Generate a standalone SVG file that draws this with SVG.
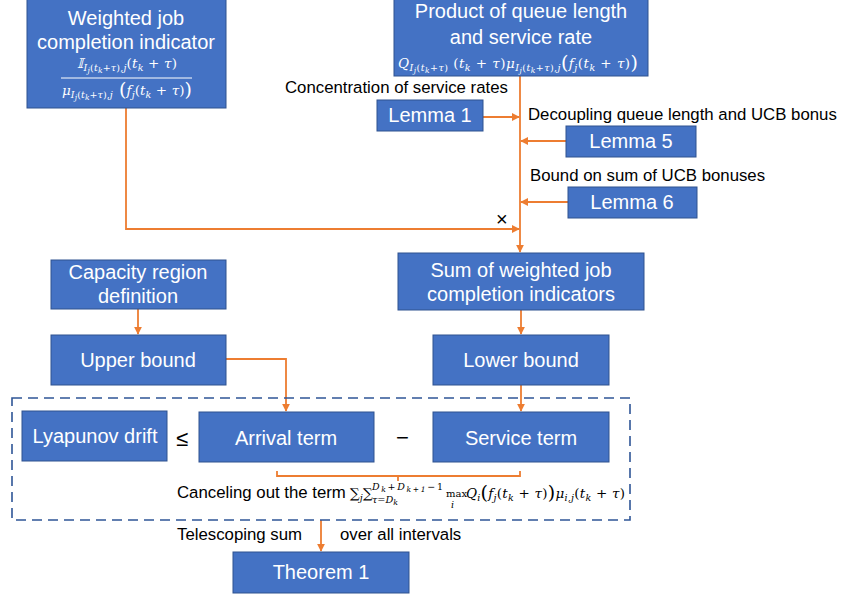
<svg xmlns="http://www.w3.org/2000/svg" width="845" height="599" viewBox="0 0 845 599">
<defs>
<style>
.box{fill:#4472C4;stroke:#2F528F;stroke-width:1}
.bt{font-family:"Liberation Sans",Arial,sans-serif;font-size:20px;fill:#fff;text-anchor:middle}
.lbl{font-family:"Liberation Sans",Arial,sans-serif;font-size:16.8px;fill:#000}
.m{font-family:"DejaVu Serif","Liberation Serif",serif;font-style:italic;font-size:13.5px}
.mw{fill:#fff}
.mk{fill:#000}
.up{font-style:normal}
.s1{font-size:9.5px}
.s2{font-size:7.5px}
.big{font-size:19px;font-style:normal}
.con{fill:none;stroke:#ED7D31;stroke-width:1.8}
.arr{marker-end:url(#ah)}
</style>
<marker id="ah" viewBox="0 0 10 10" refX="9" refY="5" markerWidth="4.5" markerHeight="4.5" orient="auto" markerUnits="strokeWidth">
<path d="M0,0 L10,5 L0,10 z" fill="#ED7D31"/>
</marker>
</defs>
<rect width="845" height="599" fill="#fff"/>

<g id="connectors">
<path class="con arr" d="M520,76 V252"/>
<path class="con arr" d="M483,117 H519"/>
<path class="con arr" d="M566,141 H521"/>
<path class="con arr" d="M568,202 H521"/>
<path class="con arr" d="M126,108 V229 H519"/>
<path class="con arr" d="M138,309 V334"/>
<path class="con arr" d="M521,310 V334"/>
<path class="con arr" d="M226,359 H286 V411"/>
<path class="con arr" d="M521,385 V411"/>
<path class="con" d="M277,471 V476 H520 V471 M398,476 V481"/>
<path class="con arr" d="M321,520 V551"/>
</g>

<g id="group-box">
<rect x="12" y="398" width="618" height="122" fill="none" stroke="#2F5597" stroke-width="1.6" stroke-dasharray="10,6"/>
</g>

<g id="n-weighted">
<rect class="box" x="27" y="-1" width="199" height="109"/>
<text class="bt" x="126" y="25">Weighted job</text>
<text class="bt" x="126" y="49">completion indicator</text>
<text class="m mw" x="77" y="68" textLength="100" lengthAdjust="spacing">𝕀<tspan class="s1" dy="3">I</tspan><tspan class="s2" dy="2">j</tspan><tspan class="s1 up" dy="-2">(</tspan><tspan class="s1" >t</tspan><tspan class="s2" dy="2">k</tspan><tspan class="s1 up" dy="-2">+</tspan><tspan class="s1">τ</tspan><tspan class="s1 up">),</tspan><tspan class="s1">j</tspan><tspan class="up" dy="-3">(</tspan>t<tspan class="s1" dy="3">k</tspan><tspan class="up" dy="-3"> + </tspan>τ<tspan class="up">)</tspan></text>
<line x1="61" y1="78" x2="192" y2="78" stroke="#fff" stroke-width="1"/>
<text class="m mw" x="62" y="95" textLength="130" lengthAdjust="spacing">μ<tspan class="s1" dy="3">I</tspan><tspan class="s2" dy="2">j</tspan><tspan class="s1 up" dy="-2">(</tspan><tspan class="s1">t</tspan><tspan class="s2" dy="2">k</tspan><tspan class="s1 up" dy="-2">+</tspan><tspan class="s1">τ</tspan><tspan class="s1 up">),</tspan><tspan class="s1">j</tspan><tspan class="big" dy="-2"> (</tspan><tspan dy="-1">f</tspan><tspan class="s1" dy="3">j</tspan><tspan class="up" dy="-3">(</tspan>t<tspan class="s1" dy="3">k</tspan><tspan class="up" dy="-3"> + </tspan>τ<tspan class="up">)</tspan><tspan class="big" dy="1">)</tspan></text>
</g>

<g id="n-product">
<rect class="box" x="394" y="-1" width="254" height="77"/>
<text class="bt" x="521" y="18">Product of queue length</text>
<text class="bt" x="521" y="44">and service rate</text>
<text class="m mw" x="398" y="68" textLength="240" lengthAdjust="spacing">Q<tspan class="s1" dy="3">I</tspan><tspan class="s2" dy="2">j</tspan><tspan class="s1 up" dy="-2">(</tspan><tspan class="s1">t</tspan><tspan class="s2" dy="2">k</tspan><tspan class="s1 up" dy="-2">+</tspan><tspan class="s1">τ</tspan><tspan class="s1 up">)</tspan><tspan class="up" dy="-3"> (</tspan>t<tspan class="s1" dy="3">k</tspan><tspan class="up" dy="-3"> + </tspan>τ<tspan class="up">)</tspan>μ<tspan class="s1" dy="3">I</tspan><tspan class="s2" dy="2">j</tspan><tspan class="s1 up" dy="-2">(</tspan><tspan class="s1">t</tspan><tspan class="s2" dy="2">k</tspan><tspan class="s1 up" dy="-2">+</tspan><tspan class="s1">τ</tspan><tspan class="s1 up">),</tspan><tspan class="s1">j</tspan><tspan class="big" dy="-2">(</tspan><tspan dy="-1">f</tspan><tspan class="s1" dy="3">j</tspan><tspan class="up" dy="-3">(</tspan>t<tspan class="s1" dy="3">k</tspan><tspan class="up" dy="-3"> + </tspan>τ<tspan class="up">)</tspan><tspan class="big" dy="1">)</tspan></text>
</g>

<g id="n-lemma1">
<rect class="box" x="377" y="100" width="106" height="31"/>
<text class="bt" x="430" y="122">Lemma 1</text>
</g>
<g id="n-lemma5">
<rect class="box" x="566" y="126" width="130" height="31"/>
<text class="bt" x="631" y="148">Lemma 5</text>
</g>
<g id="n-lemma6">
<rect class="box" x="568" y="187" width="129" height="31"/>
<text class="bt" x="632" y="209">Lemma 6</text>
</g>

<g id="labels">
<text class="lbl" x="285" y="93">Concentration of service rates</text>
<text class="lbl" x="528" y="120">Decoupling queue length and UCB bonus</text>
<text class="lbl" x="530" y="181">Bound on sum of UCB bonuses</text>
<text class="lbl" x="496" y="226" style="font-size:20px">×</text>
<text class="lbl" x="176" y="446" style="font-size:22px">≤</text>
<text class="lbl" x="396" y="445" style="font-size:22px">−</text>
<text class="lbl" x="177" y="540">Telescoping sum</text>
<text class="lbl" x="340" y="540">over all intervals</text>
<text class="lbl" x="177" y="498">Canceling out the term</text>
<text class="m mk" x="350" y="498"><tspan class="up">∑</tspan><tspan class="s1" dy="3">j</tspan></text>
<text class="m mk" x="363" y="498"><tspan class="up">∑</tspan></text>
<text class="m mk s1" x="372" y="503" textLength="26" lengthAdjust="spacingAndGlyphs">τ<tspan class="up">=</tspan>D<tspan class="s2" dy="2">k</tspan></text>
<text class="m mk s1" x="372" y="490" textLength="71" lengthAdjust="spacing">D<tspan class="s2" dy="2">k</tspan><tspan class="up" dy="-2">+</tspan>D<tspan class="s2" dy="2">k+1</tspan><tspan class="up" dy="-2">−1</tspan></text>
<text class="m mk up" x="446" y="497" style="font-size:10px">max</text>
<text class="m mk s1" x="451" y="508">i</text>
<text class="m mk" x="466" y="498" textLength="159" lengthAdjust="spacing">Q<tspan class="s1" dy="3">i</tspan><tspan class="big" dy="-2">(</tspan><tspan dy="-1">f</tspan><tspan class="s1" dy="3">j</tspan><tspan class="up" dy="-3">(</tspan>t<tspan class="s1" dy="3">k</tspan><tspan class="up" dy="-3"> + </tspan>τ<tspan class="up">)</tspan><tspan class="big" dy="1">)</tspan><tspan dy="-1">μ</tspan><tspan class="s1" dy="3">i,j</tspan><tspan class="up" dy="-3">(</tspan>t<tspan class="s1" dy="3">k</tspan><tspan class="up" dy="-3"> + </tspan>τ<tspan class="up">)</tspan></text>
</g>

<g id="n-capacity">
<rect class="box" x="51" y="260" width="175" height="49"/>
<text class="bt" x="138" y="279">Capacity region</text>
<text class="bt" x="138" y="303">definition</text>
</g>
<g id="n-sum">
<rect class="box" x="398" y="253" width="246" height="57"/>
<text class="bt" x="521" y="277">Sum of weighted job</text>
<text class="bt" x="521" y="301">completion indicators</text>
</g>
<g id="n-upper">
<rect class="box" x="51" y="335" width="175" height="50"/>
<text class="bt" x="138" y="367">Upper bound</text>
</g>
<g id="n-lower">
<rect class="box" x="433" y="335" width="176" height="50"/>
<text class="bt" x="521" y="367">Lower bound</text>
</g>
<g id="n-lyapunov">
<rect class="box" x="22" y="411" width="145" height="50"/>
<text class="bt" x="95" y="443">Lyapunov drift</text>
</g>
<g id="n-arrival">
<rect class="box" x="199" y="412" width="175" height="50"/>
<text class="bt" x="286" y="445">Arrival term</text>
</g>
<g id="n-service">
<rect class="box" x="433" y="412" width="176" height="50"/>
<text class="bt" x="521" y="445">Service term</text>
</g>
<g id="n-theorem">
<rect class="box" x="233" y="552" width="176" height="41"/>
<text class="bt" x="321" y="579">Theorem 1</text>
</g>
</svg>
